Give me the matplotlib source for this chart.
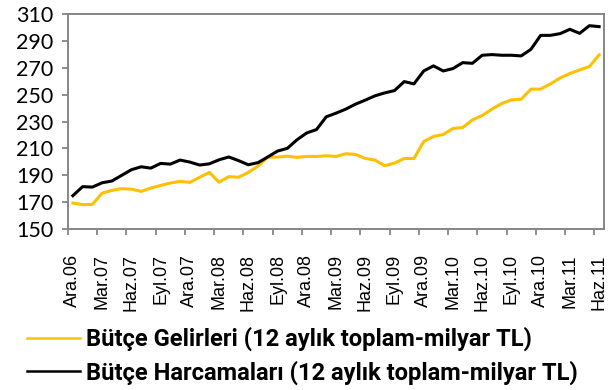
import numpy as np
import matplotlib
matplotlib.use("Agg")
import matplotlib.pyplot as plt
from matplotlib.lines import Line2D

# 12-month rolling budget totals, billion TL, Dec 2006 - Jun 2011
months = ["Ara.06", "Oca.07", "Şub.07", "Mar.07", "Nis.07", "May.07", "Haz.07",
          "Tem.07", "Ağu.07", "Eyl.07", "Eki.07", "Kas.07", "Ara.07",
          "Oca.08", "Şub.08", "Mar.08", "Nis.08", "May.08", "Haz.08",
          "Tem.08", "Ağu.08", "Eyl.08", "Eki.08", "Kas.08", "Ara.08",
          "Oca.09", "Şub.09", "Mar.09", "Nis.09", "May.09", "Haz.09",
          "Tem.09", "Ağu.09", "Eyl.09", "Eki.09", "Kas.09", "Ara.09",
          "Oca.10", "Şub.10", "Mar.10", "Nis.10", "May.10", "Haz.10",
          "Tem.10", "Ağu.10", "Eyl.10", "Eki.10", "Kas.10", "Ara.10",
          "Oca.11", "Şub.11", "Mar.11", "Nis.11", "May.11", "Haz.11"]

gelir = [169.3, 168.1, 168.3, 176.7, 178.7, 180.0, 179.7, 178.0, 180.5, 182.4,
         184.2, 185.4, 184.7, 188.5, 192.1, 184.8, 189.0, 188.5, 192.1, 196.8,
         203.5, 203.5, 204.2, 203.3, 204.0, 204.0, 204.5, 204.0, 206.0, 205.5,
         202.5, 201.3, 197.1, 199.0, 202.5, 202.5, 215.1, 218.9, 220.3, 224.8,
         225.5, 231.2, 234.5, 239.2, 243.4, 246.1, 246.6, 254.1, 254.1, 258.0,
         262.4, 265.7, 268.4, 270.9, 279.6]

harcama = [174.8, 181.5, 181.2, 184.4, 185.7, 189.9, 194.1, 196.3, 195.3, 198.8,
           198.3, 201.3, 199.8, 197.6, 198.5, 201.5, 203.6, 200.9, 197.8, 199.4,
           203.6, 208.0, 210.0, 216.4, 221.5, 224.0, 233.5, 236.2, 239.2, 242.9,
           245.9, 249.1, 251.3, 253.0, 259.7, 258.0, 267.6, 271.4, 267.6, 269.4,
           273.8, 273.3, 279.3, 279.8, 279.3, 279.3, 278.8, 283.7, 294.1, 294.1,
           295.4, 298.6, 295.6, 301.3, 300.6]

series_names = ["Bütçe Gelirleri (12 aylık toplam-milyar TL)",
                "Bütçe Harcamaları (12 aylık toplam-milyar TL)"]
yticks = list(range(150, 311, 20))

GOLD = "#FFC000"
FRAME = "#868686"

fig = plt.figure(figsize=(6.15, 3.9), dpi=100)
ax = fig.add_axes([68/615, 1-229/390, (604-68)/615, (229-14)/390])

x = np.arange(len(months))
ax.plot(x, gelir, color=GOLD, lw=2.2, solid_joinstyle="round")
ax.plot(x, harcama, color="black", lw=2.2, solid_joinstyle="round")

ax.set_xlim(-0.5, len(months)-0.5)
ax.set_ylim(150, 310)

# labels every third month, tick marks on category boundaries
lab_idx = x[::3]
ax.set_xticks(lab_idx)
ax.set_xticklabels([months[i] for i in lab_idx], rotation=90,
                   fontfamily="Liberation Sans", fontsize=13)
ax.set_xticks(np.arange(-0.5, len(months)-0.5, 3), minor=True)
ax.tick_params(axis="x", which="major", length=0, pad=18)
ax.tick_params(axis="x", which="minor", length=4.5, width=1.3, color=FRAME,
               direction="out")

ax.set_yticks(yticks)
ax.set_yticklabels([str(v) for v in yticks], fontfamily="Lato", fontsize=15.5)
ax.tick_params(axis="y", length=4.5, width=1.3, color=FRAME, pad=6)

for sp in ax.spines.values():
    sp.set_color(FRAME)
    sp.set_linewidth(1.4)

handles = [Line2D([], [], color=GOLD, lw=1.8),
           Line2D([], [], color="black", lw=1.8)]
fig.legend(handles, series_names, loc="upper left",
           bbox_to_anchor=(27/615, 1-327/390), frameon=False,
           prop={"family": "Roboto", "weight": "bold", "size": 17.1},
           handlelength=2.25, handletextpad=0.25, labelspacing=0.38,
           borderpad=0, borderaxespad=0)

fig.savefig("out.png", dpi=100)
